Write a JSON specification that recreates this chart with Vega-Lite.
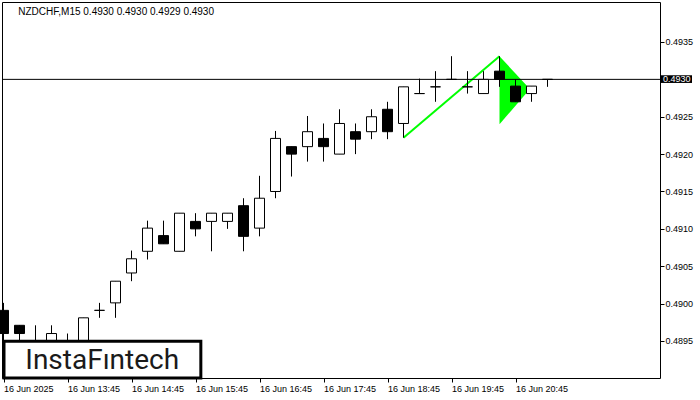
{
  "$schema": "https://vega.github.io/schema/vega-lite/v6.json",
  "width": 658,
  "height": 376,
  "autosize": {"type": "none"},
  "padding": {"left": 2, "top": 2, "right": 40, "bottom": 22},
  "background": "white",
  "config": {
    "view": {"stroke": "black", "strokeWidth": 1},
    "axis": {"labelFont": "Liberation Sans", "labelFontSize": 9, "labelColor": "black", "tickColor": "black", "domain": false, "grid": false, "title": null}
  },
  "datasets": {
    "candles": [
      {"t": "2025-06-16T12:45:00", "open": 0.48991, "high": 0.49001, "low": 0.48945, "close": 0.48960},
      {"t": "2025-06-16T13:00:00", "open": 0.48971, "high": 0.48971, "low": 0.48940, "close": 0.48960},
      {"t": "2025-06-16T13:15:00", "open": 0.48935, "high": 0.48971, "low": 0.48925, "close": 0.48938},
      {"t": "2025-06-16T13:30:00", "open": 0.48930, "high": 0.48971, "low": 0.48925, "close": 0.48960},
      {"t": "2025-06-16T13:45:00", "open": 0.48938, "high": 0.48960, "low": 0.48930, "close": 0.48935},
      {"t": "2025-06-16T14:00:00", "open": 0.48930, "high": 0.48981, "low": 0.48925, "close": 0.48981},
      {"t": "2025-06-16T14:15:00", "open": 0.48991, "high": 0.49001, "low": 0.48981, "close": 0.48991},
      {"t": "2025-06-16T14:30:00", "open": 0.49001, "high": 0.49030, "low": 0.48981, "close": 0.49030},
      {"t": "2025-06-16T14:45:00", "open": 0.49041, "high": 0.49071, "low": 0.49030, "close": 0.49060},
      {"t": "2025-06-16T15:00:00", "open": 0.49070, "high": 0.49111, "low": 0.49059, "close": 0.49101},
      {"t": "2025-06-16T15:15:00", "open": 0.49091, "high": 0.49111, "low": 0.49080, "close": 0.49080},
      {"t": "2025-06-16T15:30:00", "open": 0.49070, "high": 0.49121, "low": 0.49070, "close": 0.49121},
      {"t": "2025-06-16T15:45:00", "open": 0.49110, "high": 0.49121, "low": 0.49090, "close": 0.49100},
      {"t": "2025-06-16T16:00:00", "open": 0.49110, "high": 0.49121, "low": 0.49070, "close": 0.49121},
      {"t": "2025-06-16T16:15:00", "open": 0.49110, "high": 0.49121, "low": 0.49100, "close": 0.49121},
      {"t": "2025-06-16T16:30:00", "open": 0.49131, "high": 0.49141, "low": 0.49070, "close": 0.49090},
      {"t": "2025-06-16T16:45:00", "open": 0.49101, "high": 0.49171, "low": 0.49090, "close": 0.49141},
      {"t": "2025-06-16T17:00:00", "open": 0.49150, "high": 0.49231, "low": 0.49141, "close": 0.49221},
      {"t": "2025-06-16T17:15:00", "open": 0.49210, "high": 0.49210, "low": 0.49170, "close": 0.49200},
      {"t": "2025-06-16T17:30:00", "open": 0.49210, "high": 0.49251, "low": 0.49190, "close": 0.49230},
      {"t": "2025-06-16T17:45:00", "open": 0.49221, "high": 0.49241, "low": 0.49190, "close": 0.49210},
      {"t": "2025-06-16T18:00:00", "open": 0.49200, "high": 0.49260, "low": 0.49200, "close": 0.49241},
      {"t": "2025-06-16T18:15:00", "open": 0.49230, "high": 0.49241, "low": 0.49200, "close": 0.49220},
      {"t": "2025-06-16T18:30:00", "open": 0.49230, "high": 0.49260, "low": 0.49220, "close": 0.49250},
      {"t": "2025-06-16T18:45:00", "open": 0.49260, "high": 0.49270, "low": 0.49220, "close": 0.49230},
      {"t": "2025-06-16T19:00:00", "open": 0.49241, "high": 0.49290, "low": 0.49222, "close": 0.49290},
      {"t": "2025-06-16T19:15:00", "open": 0.49281, "high": 0.49301, "low": 0.49281, "close": 0.49281},
      {"t": "2025-06-16T19:30:00", "open": 0.49290, "high": 0.49311, "low": 0.49270, "close": 0.49290},
      {"t": "2025-06-16T19:45:00", "open": 0.49300, "high": 0.49331, "low": 0.49300, "close": 0.49300},
      {"t": "2025-06-16T20:00:00", "open": 0.49290, "high": 0.49311, "low": 0.49281, "close": 0.49290},
      {"t": "2025-06-16T20:15:00", "open": 0.49281, "high": 0.49311, "low": 0.49281, "close": 0.49300},
      {"t": "2025-06-16T20:30:00", "open": 0.49311, "high": 0.49331, "low": 0.49290, "close": 0.49300},
      {"t": "2025-06-16T20:45:00", "open": 0.49291, "high": 0.49300, "low": 0.49270, "close": 0.49270},
      {"t": "2025-06-16T21:00:00", "open": 0.49281, "high": 0.49291, "low": 0.49270, "close": 0.49291},
      {"t": "2025-06-16T21:15:00", "open": 0.49300, "high": 0.49300, "low": 0.49290, "close": 0.49300}
    ],
    "flag": [
      {"t": "2025-06-16T20:30:00", "top": 0.49331, "bot": 0.49240},
      {"t": "2025-06-16T20:58:30", "top": 0.49287, "bot": 0.49287}
    ],
    "pole": [
      {"t": "2025-06-16T19:00:00", "p": 0.49222},
      {"t": "2025-06-16T20:30:00", "p": 0.49331}
    ],
    "labels": [
      {"header": "NZDCHF,M15  0.4930 0.4930 0.4929 0.4930", "brand": "InstaFıntech", "last": 0.4930}
    ]
  },
  "layer": [
    {
      "data": {"name": "flag"},
      "mark": {"type": "area", "color": "#00ff00", "opacity": 1},
      "encoding": {
        "x": {"field": "t", "type": "temporal",
          "scale": {"padding": 0, "domain": [
            {"year": 2025, "month": "jun", "date": 16, "hours": 12, "minutes": 43, "seconds": 35, "milliseconds": 625},
            {"year": 2025, "month": "jun", "date": 16, "hours": 23, "minutes": 0, "seconds": 28, "milliseconds": 125}]},
          "axis": {
            "orient": "bottom",
            "values": [
              {"year": 2025, "month": "jun", "date": 16, "hours": 12, "minutes": 45},
              {"year": 2025, "month": "jun", "date": 16, "hours": 13, "minutes": 45},
              {"year": 2025, "month": "jun", "date": 16, "hours": 14, "minutes": 45},
              {"year": 2025, "month": "jun", "date": 16, "hours": 15, "minutes": 45},
              {"year": 2025, "month": "jun", "date": 16, "hours": 16, "minutes": 45},
              {"year": 2025, "month": "jun", "date": 16, "hours": 17, "minutes": 45},
              {"year": 2025, "month": "jun", "date": 16, "hours": 18, "minutes": 45},
              {"year": 2025, "month": "jun", "date": 16, "hours": 19, "minutes": 45},
              {"year": 2025, "month": "jun", "date": 16, "hours": 20, "minutes": 45}
            ],
            "labelExpr": "hours(datum.value) == 12 ? timeFormat(datum.value, '%d %b %Y') : timeFormat(datum.value, '%d %b %H:%M')",
            "labelAlign": "left",
            "labelBaseline": "top",
            "tickSize": 4,
            "labelPadding": 2,
            "labelOverlap": false,
            "labelFlush": false
          }
        },
        "y": {"field": "top", "type": "quantitative",
          "scale": {"domain": [0.489005, 0.494035], "zero": false, "nice": false, "padding": 0},
          "axis": {
            "orient": "right",
            "values": [0.4895, 0.49, 0.4905, 0.491, 0.4915, 0.492, 0.4925, 0.4935],
            "format": ".4f",
            "tickSize": 4,
            "labelPadding": 1,
            "labelOverlap": false,
            "labelFlush": false
          }
        },
        "y2": {"field": "bot"}
      }
    },
    {
      "data": {"name": "pole"},
      "mark": {"type": "line", "color": "#00ff00", "strokeWidth": 2},
      "encoding": {
        "x": {"field": "t", "type": "temporal"},
        "y": {"field": "p", "type": "quantitative"}
      }
    },
    {
      "data": {"name": "labels"},
      "mark": {"type": "rule", "color": "black", "strokeWidth": 1},
      "encoding": {
        "y": {"field": "last", "type": "quantitative"}
      }
    },
    {
      "data": {"name": "candles"},
      "mark": {"type": "rule", "color": "black", "strokeWidth": 1},
      "encoding": {
        "x": {"field": "t", "type": "temporal"},
        "y": {"field": "low", "type": "quantitative"},
        "y2": {"field": "high"}
      }
    },
    {
      "data": {"name": "candles"},
      "mark": {"type": "bar", "width": 10, "stroke": "black", "strokeWidth": 1},
      "encoding": {
        "x": {"field": "t", "type": "temporal"},
        "y": {"field": "open", "type": "quantitative"},
        "y2": {"field": "close"},
        "fill": {"condition": {"test": "datum.close < datum.open", "value": "black"}, "value": "white"}
      }
    },
    {
      "data": {"name": "labels"},
      "mark": {"type": "rect", "fill": "white", "stroke": "black", "strokeWidth": 3},
      "encoding": {
        "x": {"datum": {"year": 2025, "month": "jun", "date": 16, "hours": 12, "minutes": 45, "seconds": 28}, "type": "temporal"},
        "x2": {"datum": {"year": 2025, "month": "jun", "date": 16, "hours": 15, "minutes": 50}},
        "y": {"datum": 0.489496, "type": "quantitative"},
        "y2": {"datum": 0.489005}
      }
    },
    {
      "data": {"name": "labels"},
      "mark": {"type": "text", "font": "Roboto", "fontSize": 28, "fontWeight": 400, "color": "#1a1a1a", "align": "center", "baseline": "alphabetic"},
      "encoding": {
        "x": {"datum": {"year": 2025, "month": "jun", "date": 16, "hours": 14, "minutes": 17, "seconds": 32}, "type": "temporal"},
        "y": {"datum": 0.489122, "type": "quantitative"},
        "text": {"field": "brand"}
      }
    },
    {
      "data": {"name": "labels"},
      "mark": {"type": "text", "font": "Liberation Sans", "fontSize": 10, "color": "black", "align": "left", "baseline": "middle"},
      "encoding": {
        "x": {"datum": {"year": 2025, "month": "jun", "date": 16, "hours": 12, "minutes": 58, "seconds": 52}, "type": "temporal"},
        "y": {"datum": 0.493905, "type": "quantitative"},
        "text": {"field": "header"}
      }
    },
    {
      "data": {"name": "labels"},
      "mark": {"type": "rect", "fill": "black", "clip": false},
      "encoding": {
        "x": {"datum": {"year": 2025, "month": "jun", "date": 16, "hours": 23, "minutes": 1, "seconds": 24}, "type": "temporal"},
        "x2": {"datum": {"year": 2025, "month": "jun", "date": 16, "hours": 23, "minutes": 30, "seconds": 28}},
        "y": {"datum": 0.493055, "type": "quantitative"},
        "y2": {"datum": 0.492952}
      }
    },
    {
      "data": {"name": "labels"},
      "mark": {"type": "text", "font": "Liberation Sans", "fontSize": 9, "color": "white", "align": "left", "baseline": "middle", "clip": false},
      "encoding": {
        "x": {"datum": {"year": 2025, "month": "jun", "date": 16, "hours": 23, "minutes": 3, "seconds": 18}, "type": "temporal"},
        "y": {"field": "last", "type": "quantitative"},
        "text": {"field": "last", "format": ".4f"}
      }
    }
  ]
}
